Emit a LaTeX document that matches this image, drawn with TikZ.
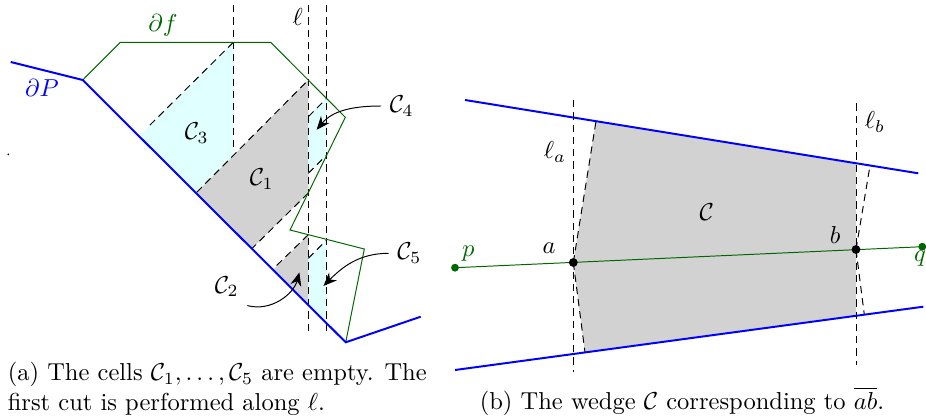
\documentclass[tikz,border=0pt]{standalone}
\usepackage{amsmath}
\usetikzlibrary{arrows.meta}
\definecolor{cellcyan}{rgb}{0.88,1,1}
\definecolor{facegreen}{rgb}{0,0.4,0}
\begin{document}
\begin{tikzpicture}[x=0.408pt, y=-0.408pt,
  boundary/.style={blue, thick},
  face/.style={facegreen},
  cut/.style={dash pattern=on 3pt off 2pt},
  empty/.style={fill=cellcyan},
  wedge/.style={fill=gray!35},
  pointer/.style={-{Stealth[length=5.5pt,width=4.5pt]}, shorten >=1pt}]
  \useasboundingbox (0,0) rectangle (926,420);
  % (a) cells
  \fill[empty] (233.3,42.3) -- (139.2,136.5) -- (196,193.3) -- (233.3,156) -- cycle;
  \fill[wedge] (196,193.3) -- (308.3,80) -- (308.3,192.8) -- (251.5,249) -- cycle;
  \fill[empty] (308.3,116.7) -- (326.7,98.3) -- (326.7,155) -- (308.3,173.3) -- cycle;
  \fill[wedge] (308.3,234.7) -- (272.5,270.5) -- (308.3,305.6) -- cycle;
  \fill[empty] (308.3,258.3) -- (326.7,239.5) -- (326.7,324) -- (308.3,305.6) -- cycle;
  \draw[cut] (233.3,5) -- (233.3,147);
  \draw[cut] (308.3,5) -- (308.3,333);
  \draw[cut] (326.7,5) -- (326.7,333);
  \draw[cut] (233.3,42.3) -- (146.7,128.3);
  \draw[cut] (196.7,192.3) -- (308.3,80);
  \draw[cut] (308.3,193) -- (252,248.5);
  \draw[cut] (308.3,116.7) -- (326.7,98.3);
  \draw[cut] (308.3,173.3) -- (326.7,155);
  \draw[cut] (308.3,234.7) -- (272.7,269.3);
  \draw[cut] (308.3,258.3) -- (326.7,240);
  \draw[face] (82.7,80) -- (120.3,42.3) -- (270.7,42.3) -- (345.3,117.3) -- (290,230)
    -- (364.3,249) -- (345.7,342.3);
  \draw[boundary] (10.7,62) -- (82.7,80) -- (345.7,342.3) -- (420.7,316.7);
  \fill (8.3,154.3) circle (0.4pt);
  \node[blue] (lblP) at (42,88) {$\partial P$};
  \node[facegreen] (lblf) at (163,25) {$\partial f$};
  \node (lblell) at (297.7,17.3) {$\ell$};
  \node (c3) at (196.7,133.3) {$\mathcal{C}_3$};
  \node (c1) at (261.7,179.3) {$\mathcal{C}_1$};
  \node (c4) at (401.7,106) {$\mathcal{C}_4$};
  \node (c2) at (226.7,286.7) {$\mathcal{C}_2$};
  \node (c5) at (409.3,253.3) {$\mathcal{C}_5$};
  \coordinate (t4) at (315,131.7);
  \coordinate (t2) at (300,270);
  \coordinate (t5) at (321.7,287.7);
  \draw[pointer] (c4.west) to[out=180,in=50] (t4);
  \draw[pointer] (c2.south east) to[out=-15,in=-105] (t2);
  \draw[pointer] (c5.west) to[out=180,in=45] (t5);
  \node[anchor=base west, align=left, inner sep=0pt] (capa) at (7.3,410)
    {(a) The cells $\mathcal{C}_1,\dots,\mathcal{C}_5$ are empty. The\\first cut is performed along $\ell$.};
  % (b) wedge
  \coordinate (a) at (573.3,262.5);
  \coordinate (b) at (856,249.5);
  \coordinate (p) at (455,267.7);
  \coordinate (q) at (922.3,246.7);
  \fill[wedge] (a) -- (596,121.2) -- (856,163.2) -- (856,315.8) -- (585,352.4) -- cycle;
  \draw[cut] (573.3,100) -- (573.3,371.7);
  \draw[cut] (856,103.3) -- (856,365);
  \draw[cut] (a) -- (596,121.2);
  \draw[cut] (a) -- (585,352.4);
  \draw[cut] (b) -- (870,165.5);
  \draw[cut] (b) -- (864.3,314.7);
  \draw[boundary] (465,100) -- (918.3,173.3);
  \draw[boundary] (455,370) -- (923.3,306.7);
  \draw[face] (p) -- (q);
  \fill[facegreen] (p) circle (1.6pt) (q) circle (1.6pt);
  \fill (a) circle (1.8pt) (b) circle (1.8pt);
  \node (lbla) at (555,151.7) {$\ell_a$};
  \node (lblb) at (875,121.7) {$\ell_b$};
  \node (na) at (549,248.3) {$a$};
  \node (nb) at (835,235) {$b$};
  \node[facegreen] (np) at (468.3,253.3) {$p$};
  \node[facegreen] (nq) at (920,258.3) {$q$};
  \node (wc) at (706.7,212.3) {$\mathcal{C}$};
  \node[anchor=base west, inner sep=0pt] (capb) at (479.3,409.3)
    {(b) The wedge $\mathcal{C}$ corresponding to $\overline{ab}$.};
\end{tikzpicture}
\end{document}
